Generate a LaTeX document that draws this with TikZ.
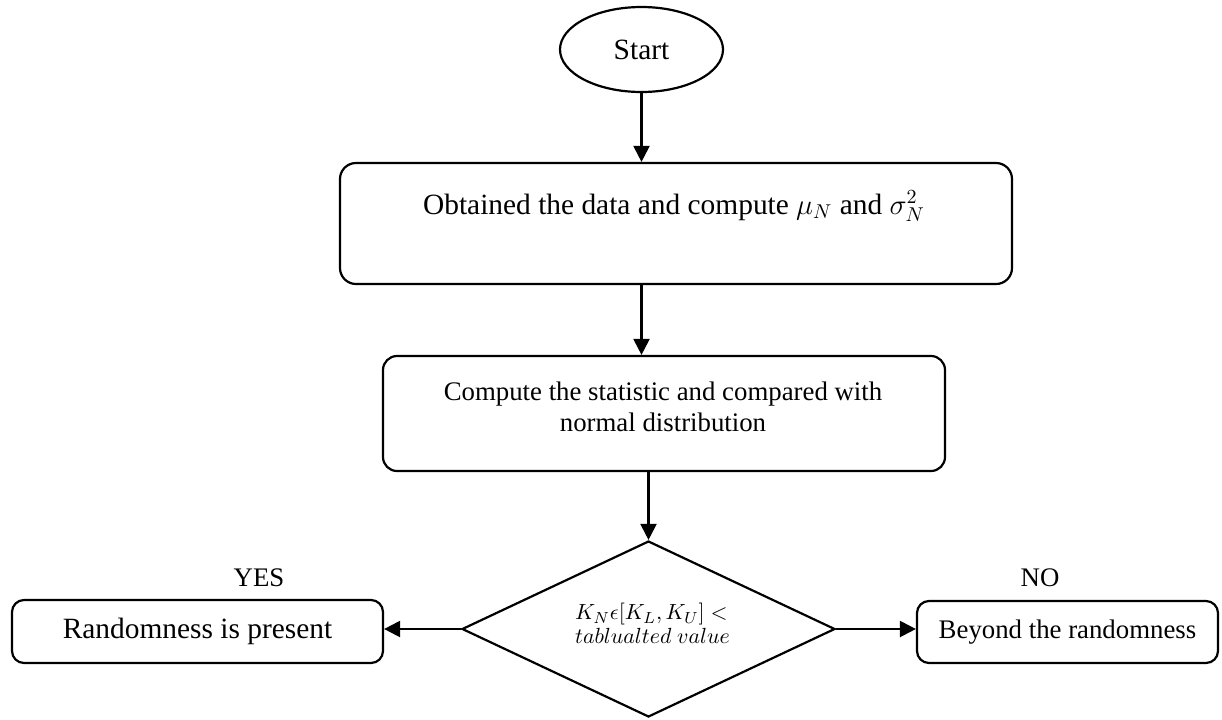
\documentclass[tikz,border=0pt]{standalone}
\usepackage{fontspec}
\setmainfont{Liberation Serif}
\usetikzlibrary{shapes.geometric,arrows.meta}
\tikzset{
  box/.style={draw, line width=1.1pt, rounded corners=8pt, inner sep=0pt},
  smallbox/.style={draw, line width=1.1pt, rounded corners=6pt, inner sep=0pt},
  arr/.style={line width=1.1pt, -{Triangle[length=8pt,width=8pt]}},
  pal/.style={font=\fontsize{14.7}{17}\selectfont},
  tms/.style={font=\fontsize{13.4}{15.5}\selectfont},
  mth/.style={font=\fontsize{11.4}{12}\selectfont},
}
\begin{document}
\begin{tikzpicture}[x=0.5pt,y=-0.5pt]
\useasboundingbox (0,0) rectangle (1222,719);
% nodes
\node[draw, ellipse, line width=1.1pt, minimum width=81.5pt, minimum height=42.5pt, inner sep=0pt, pal] (start) at (641.5,49.5) {Start};
\node[box, minimum width=336pt, minimum height=60.5pt] (b1) at (676,223.5) {};
\node[pal, inner sep=0pt] (t1) at (674,206) {Obtained the data and compute $\mu_N$ and $\sigma^{2}_{N}$};
\node[box, rounded corners=7pt, minimum width=281pt, minimum height=57.5pt] (b2) at (664,413.5) {};
\node[tms, align=center, inner sep=0pt] (t2) at (663,406.5) {Compute the statistic and compared with\\normal distribution};
\node[draw, diamond, line width=1.1pt, minimum width=186.5pt, minimum height=88pt, inner sep=0pt] (d) at (648.5,629) {};
\node[mth, align=left, inner sep=0pt] (dt) at (652.5,623.5) {$K_N\epsilon[K_L,K_U]<$\\$tablualted\ value$};
\node[smallbox, pal, minimum width=185.5pt, minimum height=31.5pt] (L) at (197.5,631.5) {Randomness is present};
\node[smallbox, tms, minimum width=150.5pt, minimum height=31pt] (R) at (1067.5,632) {Beyond the randomness};
\node[tms, inner sep=0pt] (yes) at (259,578) {YES};
\node[tms, inner sep=0pt] (no) at (1040,578) {NO};
% connectors
\draw[arr] (start.south) -- (start.south |- b1.north);
\draw[arr] (start.south |- b1.south) -- (start.south |- b2.north);
\draw[arr] (d.north |- b2.south) -- (d.north);
\draw[arr] (d.west) -- (d.west -| L.east);
\draw[arr] (d.east) -- (d.east -| R.west);
\end{tikzpicture}
\end{document}
